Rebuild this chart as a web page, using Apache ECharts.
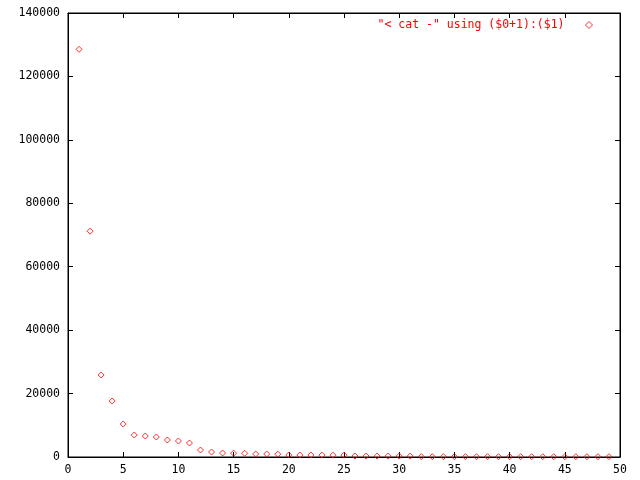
<!DOCTYPE html>
<html>
<head>
<meta charset="utf-8">
<script src="https://cdn.jsdelivr.net/npm/echarts@6/dist/echarts.min.js"></script>
<style>html,body{margin:0;padding:0;background:#fff}#c{width:640px;height:480px}</style>
</head>
<body>
<div id="c"></div>
<script>
var seriesName = '"< cat -" using ($0+1):($1)';
var xValues = [1,2,3,4,5,6,7,8,9,10,11,12,13,14,15,16,17,18,19,20,21,22,23,24,25,26,27,28,29,30,31,32,33,34,35,36,37,38,39,40,41,42,43,44,45,46,47,48,49];
var yValues = [128550,71200,25860,17660,10400,6940,6620,6300,5360,5050,4410,2200,1580,1260,1200,1180,950,950,900,630,630,630,600,580,580,300,300,300,300,300,280,120,110,110,100,100,100,100,100,100,100,100,100,100,100,100,100,100,100];
var xTicks = [0,5,10,15,20,25,30,35,40,45,50];
var yTicks = [0,20000,40000,60000,80000,100000,120000,140000];

var points = xValues.map(function(x,i){return [x,yValues[i]];});
var font = 'DejaVu Sans Mono';
function axis(type, pos, ticks, showLabel, margin){
  return {
    type:'value', position:pos,
    min:ticks[0], max:ticks[ticks.length-1], interval:ticks[1]-ticks[0],
    axisLine:{show:true,onZero:false,lineStyle:{color:'#000',width:1}},
    axisTick:{show:true,inside:true,length:5,lineStyle:{color:'#000',width:1}},
    splitLine:{show:false},
    axisLabel:{show:showLabel,color:'#000',fontFamily:font,fontSize:11.5,margin:margin,
      formatter:function(v){return String(v);}}
  };
}
var chart = echarts.init(document.getElementById('c'),null,{renderer:'canvas'});
chart.setOption({
  animation:false,
  backgroundColor:'#fff',
  grid:{left:68,right:20,top:13,bottom:23,containLabel:false,show:true,borderColor:'#000',borderWidth:1,backgroundColor:'transparent'},
  legend:{
    show:true,right:42,top:14,align:'right',
    icon:'diamond',itemWidth:7,itemHeight:7,
    textStyle:{color:'#ff0000',fontFamily:font,fontSize:11.5,padding:[0,16,0,0]},
    data:[{name:seriesName,itemStyle:{color:'transparent',borderColor:'#ff0000',borderWidth:1}}]
  },
  xAxis:[axis('x','bottom',xTicks,true,7), axis('x','top',xTicks,false,7)],
  yAxis:[axis('y','left',yTicks,true,8), axis('y','right',yTicks,false,8)],
  series:[{
    name:seriesName,type:'scatter',xAxisIndex:0,yAxisIndex:0,
    symbol:'diamond',symbolSize:6,
    itemStyle:{color:'transparent',borderColor:'#ff0000',borderWidth:1},
    data:points
  }]
});
</script>
</body>
</html>
